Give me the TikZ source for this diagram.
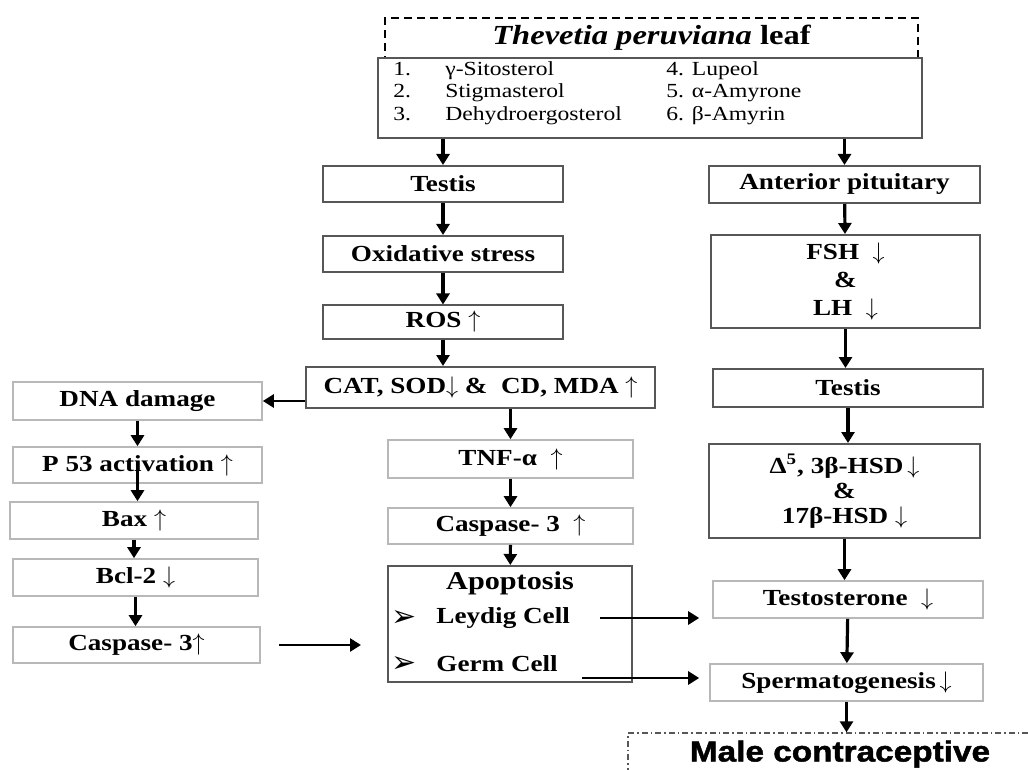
\documentclass[tikz,border=0pt]{standalone}
\usepackage{fontspec}
\setmainfont{Liberation Serif}[FakeStretch=1.18]
\newfontfamily\headsans{Liberation Sans}[FakeStretch=1.15,FakeBold=1.6]
\newfontfamily\symfont{DejaVu Sans}
\usepackage{xcolor}
\usepackage{tikz}
\usetikzlibrary{arrows.meta}

\definecolor{boxdark}{HTML}{575757}
\definecolor{boxlight}{HTML}{B8B8B8}
\newcommand{\upar}{\ensuremath{\uparrow}}
\newcommand{\dnar}{\ensuremath{\downarrow}}

\begin{document}
\begin{tikzpicture}[x=0.5pt,y=-0.5pt,
    darkbox/.style={draw=boxdark,line width=1pt,inner sep=0pt,align=center,font=\bfseries\fontsize{11.5}{14}\selectfont},
    lightbox/.style={darkbox,draw=boxlight,line width=0.8pt},
    item/.style={anchor=base west,inner sep=0pt,font=\fontsize{10}{11}\selectfont},
    flow/.style={-{Triangle[length=5.5pt,width=6.5pt]},line width=1.6pt},
    sideflow/.style={flow,line width=1.3pt}]
    \useasboundingbox (0,0) rectangle (1028,770);
    % plant source
    \node[draw=black,dashed,dash pattern=on 4pt off 2.5pt,line width=1.2pt,minimum width=266.5pt,minimum height=20pt,font=\bfseries\fontsize{13.8}{15}\selectfont] (title) at (651.5,38) {\textit{Thevetia peruviana} leaf};
    \node[darkbox,fill=white,minimum width=272pt,minimum height=40pt] (list) at (650,98) {};
    \node[item] (n1) at (393,76) {1.};
    \node[item] (c1) at (445,76) {γ-Sitosterol};
    \node[item] (n2) at (393,98) {2.};
    \node[item] (c2) at (445,98) {Stigmasterol};
    \node[item] (n3) at (393,121) {3.};
    \node[item] (c3) at (445,121) {Dehydroergosterol};
    \node[item] (c4) at (666,76) {4. Lupeol};
    \node[item] (c5) at (666,98) {5. α-Amyrone};
    \node[item] (c6) at (666,121) {6. β-Amyrin};

    % middle column
    \node[darkbox,minimum width=120pt,minimum height=18pt] (testis) at (443,184) {Testis};
    \node[darkbox,minimum width=120pt,minimum height=18pt] (oxs) at (443,254) {Oxidative stress};
    \node[darkbox,minimum width=120pt,minimum height=16.5pt] (ros) at (443,322) {ROS \upar};
    \node[darkbox,minimum width=174.5pt,minimum height=20.5pt] (enz) at (480.5,387.5) {CAT, SOD\dnar\ \& \ CD, MDA \upar};
    \node[lightbox,minimum width=122.5pt,minimum height=19pt] (tnf) at (510.5,459) {TNF-α \ \upar};
    \node[lightbox,minimum width=122.5pt,minimum height=18pt] (caspm) at (510.5,526) {Caspase- 3 \ \upar};
    \node[darkbox,minimum width=122pt,minimum height=58pt] (apop) at (510,624) {};
    \node[font=\bfseries\fontsize{12.8}{14}\selectfont] (apoptxt) at (510,583) {Apoptosis};
    \node[anchor=west,inner sep=0pt,font=\symfont\fontsize{15}{16}\selectfont] (b1) at (391,618) {➢};
    \node[anchor=west,inner sep=0pt,font=\bfseries\fontsize{11.5}{13}\selectfont] (leydig) at (436,618) {Leydig Cell};
    \node[anchor=west,inner sep=0pt,font=\symfont\fontsize{15}{16}\selectfont] (b2) at (391,664) {➢};
    \node[anchor=west,inner sep=0pt,font=\bfseries\fontsize{11.5}{13}\selectfont] (germ) at (436,664) {Germ Cell};

    % left column
    \node[lightbox,minimum width=124.5pt,minimum height=19pt] (dna) at (137.5,401) {DNA damage};
    \node[lightbox,minimum width=124.5pt,minimum height=18pt] (p53) at (137.5,465) {P 53 activation \upar};
    \node[lightbox,minimum width=124pt,minimum height=18.5pt] (bax) at (134,520.5) {Bax \upar};
    \node[lightbox,minimum width=122.5pt,minimum height=18.5pt] (bcl) at (135.5,577.5) {Bcl-2 \dnar};
    \node[lightbox,minimum width=123.5pt,minimum height=18pt] (caspl) at (136.5,645) {Caspase- 3\upar};

    % right column
    \node[darkbox,minimum width=135.5pt,minimum height=18.5pt] (pit) at (844.5,184.5) {Anterior pituitary};
    \node[darkbox,minimum width=134.5pt,minimum height=46.5pt] (gonad) at (845.5,281.5) {FSH \ \dnar\\ \&\\ LH \ \dnar};
    \node[darkbox,minimum width=135pt,minimum height=19pt] (testr) at (848,388) {Testis};
    \node[darkbox,minimum width=135.5pt,minimum height=47pt,font=\bfseries\fontsize{11.5}{12.5}\selectfont] (hsd) at (844.5,491) {Δ\textsuperscript{5}, 3β-HSD\,\dnar\\ \&\\ 17β-HSD \dnar};
    \node[lightbox,minimum width=135pt,minimum height=18.5pt] (testo) at (848,599.5) {Testosterone \ \dnar};
    \node[lightbox,minimum width=136.5pt,minimum height=18.5pt] (sperm) at (846.5,682.5) {Spermatogenesis\,\dnar};
    \node[draw=boxdark,line width=0.7pt,dash pattern=on 3pt off 1.5pt on 0.8pt off 1.5pt,minimum width=212pt,minimum height=21pt,inner sep=0pt,font=\headsans\bfseries\fontsize{14.5}{16}\selectfont] (male) at (840,754) {Male contraceptive};

    \coordinate (ley0) at (600,618);
    \coordinate (germ0) at (582,678);

    % connectors
    \draw[flow] (list.south -| testis) -- (testis.north);
    \draw[flow] (list.south -| pit) -- (pit.north);
    \draw[flow] (testis) -- (oxs);
    \draw[flow] (oxs) -- (ros);
    \draw[flow] (ros.south) -- (ros.south |- enz.north);
    \draw[sideflow] (enz.west |- dna) -- (dna.east);
    \draw[flow] (enz.south -| tnf) -- (tnf.north);
    \draw[flow] (tnf) -- (caspm);
    \draw[flow] (caspm) -- (apop);
    \draw[flow] (dna) -- (p53);
    \draw[flow] ([yshift=8pt]p53.south) -- (p53.south |- bax.north);
    \draw[flow] (bax.south) -- (bax.south |- bcl.north);
    \draw[flow] (bcl.south) -- (bcl.south |- caspl.north);
    \draw[sideflow,shorten <=9pt,shorten >=13pt] (caspl.east) -- (caspl -| apop.west);
    \draw[sideflow,shorten >=6.5pt] (ley0) -- (ley0 -| testo.west);
    \draw[sideflow,shorten >=5pt] (germ0) -- (germ0 -| sperm.west);
    \draw[flow] (pit) -- (gonad);
    \draw[flow] (gonad.south) -- (gonad.south |- testr.north);
    \draw[flow] (testr.south) -- (testr.south |- hsd.north);
    \draw[flow] (hsd.south) -- (hsd.south |- testo.north);
    \draw[flow] (testo) -- (sperm);
    \draw[flow] (sperm.south) -- (sperm.south |- male.north);
\end{tikzpicture}
\end{document}
